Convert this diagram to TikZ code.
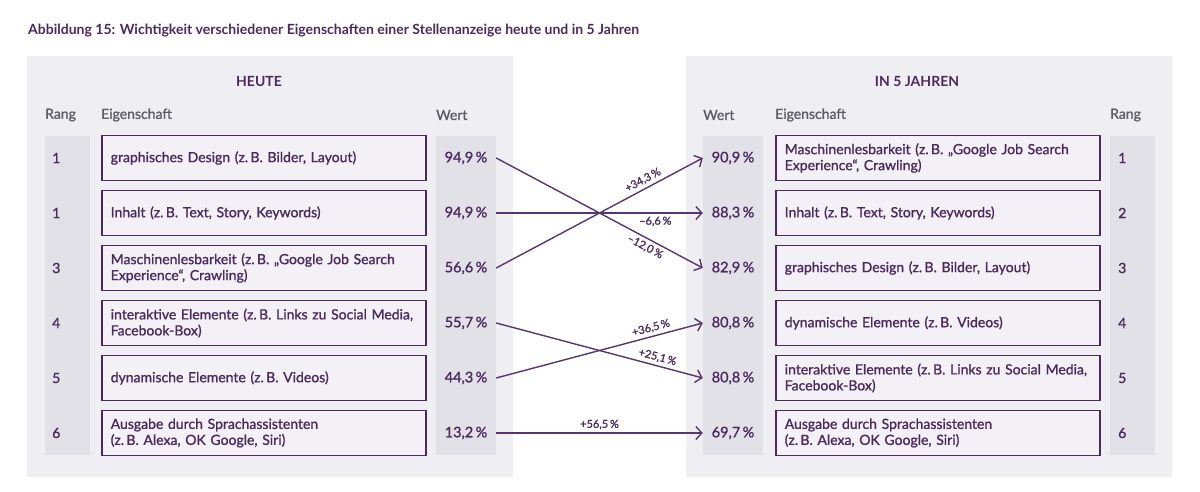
\documentclass[tikz,border=0pt]{standalone}
\usepackage{fontspec}
\setmainfont{Lato}[UprightFeatures={RawFeature={embolden=1.2}}]
\usetikzlibrary{arrows.meta}

\definecolor{ink}{HTML}{4B2A5E}
\definecolor{pfeil}{HTML}{563671}
\definecolor{kopfgrau}{HTML}{5E5C66}
\definecolor{panelgrau}{HTML}{EEEEF3}
\definecolor{streifen}{HTML}{E2E1E8}
\definecolor{boxfill}{HTML}{F3F1F6}

\begin{document}
\begin{tikzpicture}[x=1pt,y=-1pt,
  panel/.style={fill=panelgrau},
  streif/.style={fill=streifen},
  eigen/.style={draw=ink, line width=1.5pt, fill=boxfill, anchor=west, text width=306pt,
    inner xsep=9pt, inner ysep=0pt, minimum height=45pt, align=left, text=ink,
    font=\fontsize{14}{16}\selectfont},
  wert/.style={minimum width=60pt, minimum height=45pt, inner sep=0pt, text=ink,
    font=\fontsize{14.5}{16}\selectfont},
  rang/.style={anchor=west, inner sep=0pt, text=ink, font=\fontsize{14}{16}\selectfont},
  kopf/.style={anchor=west, inner sep=0pt, text=kopfgrau, font=\fontsize{14}{16}\selectfont},
  titel/.style={inner sep=0pt, text=ink, font=\bfseries\fontsize{14}{16}\selectfont},
  wechsel/.style={line width=1.4pt, draw=pfeil, -{Straight Barb[length=6pt,width=13pt]}},
  delta/.style={font=\fontsize{11}{13}\selectfont, text=ink, sloped, inner sep=3pt}]

\useasboundingbox[fill=white] (0,0) rectangle (1200,492);

% Titel
\node[titel, anchor=west] (ueber) at (28,31) {Abbildung 15: Wichtigkeit verschiedener Eigenschaften einer Stellenanzeige heute und in 5 Jahren};

% Hintergruende
\fill[panel] (27,56) rectangle (513,477);
\fill[panel] (686,56) rectangle (1172,477);
\fill[streif] (45,136) rectangle (90,455);
\fill[streif] (436,136) rectangle (496,455);
\fill[streif] (703,136) rectangle (763,455);
\fill[streif] (1110,136) rectangle (1155,455);

% Kopfzeilen
\node[titel] (heute) at (259,81) {HEUTE};
\node[titel] (spaeter) at (917,81) {IN 5 JAHREN};
\node[kopf] (krl) at (45,115) {Rang};
\node[kopf] (kel) at (101,115) {Eigenschaft};
\node[kopf] (kwl) at (436,115) {Wert};
\node[kopf] (kwr) at (703,115) {Wert};
\node[kopf] (ker) at (775,115) {Eigenschaft};
\node[kopf] (krr) at (1110,115) {Rang};

% heute
\node[rang] (rl1) at (52,158) {1};
\node[rang] (rl2) at (52,213) {1};
\node[rang] (rl3) at (52,268) {3};
\node[rang] (rl4) at (52,323) {4};
\node[rang] (rl5) at (52,378) {5};
\node[rang] (rl6) at (52,433) {6};

\node[eigen] (el1) at (101,158) {graphisches Design (z.\,B. Bilder, Layout)};
\node[eigen] (el2) at (101,213) {Inhalt (z.\,B. Text, Story, Keywords)};
\node[eigen] (el3) at (101,268) {Maschinenlesbarkeit (z.\,B. „Google Job Search\\Experience“, Crawling)};
\node[eigen] (el4) at (101,323) {interaktive Elemente (z.\,B. Links zu Social Media,\\Facebook-Box)};
\node[eigen] (el5) at (101,378) {dynamische Elemente (z.\,B. Videos)};
\node[eigen] (el6) at (101,433) {Ausgabe durch Sprachassistenten\\(z.\,B. Alexa, OK Google, Siri)};

\node[wert] (wl1) at (466,158) {94,9\,\%};
\node[wert] (wl2) at (466,213) {94,9\,\%};
\node[wert] (wl3) at (466,268) {56,6\,\%};
\node[wert] (wl4) at (466,323) {55,7\,\%};
\node[wert] (wl5) at (466,378) {44,3\,\%};
\node[wert] (wl6) at (466,433) {13,2\,\%};

% in 5 Jahren
\node[wert] (wr1) at (733,158) {90,9\,\%};
\node[wert] (wr2) at (733,213) {88,3\,\%};
\node[wert] (wr3) at (733,268) {82,9\,\%};
\node[wert] (wr4) at (733,323) {80,8\,\%};
\node[wert] (wr5) at (733,378) {80,8\,\%};
\node[wert] (wr6) at (733,433) {69,7\,\%};

\node[eigen] (er1) at (775,158) {Maschinenlesbarkeit (z.\,B. „Google Job Search\\Experience“, Crawling)};
\node[eigen] (er2) at (775,213) {Inhalt (z.\,B. Text, Story, Keywords)};
\node[eigen] (er3) at (775,268) {graphisches Design (z.\,B. Bilder, Layout)};
\node[eigen] (er4) at (775,323) {dynamische Elemente (z.\,B. Videos)};
\node[eigen] (er5) at (775,378) {interaktive Elemente (z.\,B. Links zu Social Media,\\Facebook-Box)};
\node[eigen] (er6) at (775,433) {Ausgabe durch Sprachassistenten\\(z.\,B. Alexa, OK Google, Siri)};

\node[rang] (rr1) at (1118,158) {1};
\node[rang] (rr2) at (1118,213) {2};
\node[rang] (rr3) at (1118,268) {3};
\node[rang] (rr4) at (1118,323) {4};
\node[rang] (rr5) at (1118,378) {5};
\node[rang] (rr6) at (1118,433) {6};

% Veraenderungen
\draw[wechsel] (wl1.east) -- (wr3.west) node[delta, pos=0.74, below] {--12,0\,\%};
\draw[wechsel] (wl2.east) -- (wr2.west) node[delta, pos=0.77, below] {--6,6\,\%};
\draw[wechsel] (wl3.east) -- (wr1.west) node[delta, pos=0.73, above] {+34,3\,\%};
\draw[wechsel] (wl4.east) -- (wr5.west) node[delta, pos=0.77, above] {+25,1\,\%};
\draw[wechsel] (wl5.east) -- (wr4.west) node[delta, pos=0.76, above] {+36,5\,\%};
\draw[wechsel] (wl6.east) -- (wr6.west) node[delta, pos=0.5, above] {+56,5\,\%};
\end{tikzpicture}
\end{document}
